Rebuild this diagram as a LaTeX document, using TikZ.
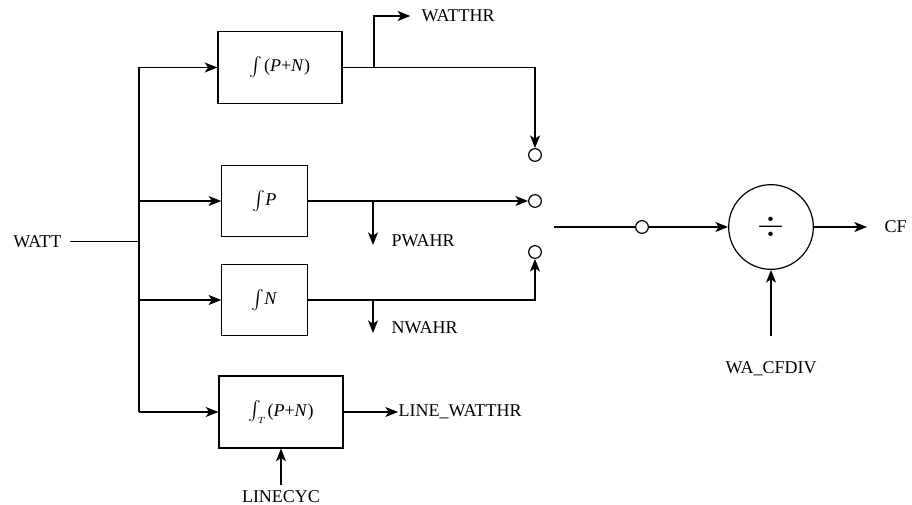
\documentclass[tikz,border=0pt]{standalone}
\usepackage{fix-cm}
\usepackage{exscale}
\usepackage{fontspec}
\setmainfont{Liberation Serif}
\usetikzlibrary{arrows.meta}
\begin{document}
\begin{tikzpicture}[x=0.75pt,y=-0.75pt,
  line width=0.9pt,
  every node/.style={font=\fontsize{13.5}{16}\selectfont},
  blk/.style={draw, line width=0.9pt, inner sep=0pt},
  contact/.style={draw, circle, line width=0.9pt, minimum size=9.5pt, inner sep=0pt},
  divc/.style={draw, circle, line width=0.9pt, minimum size=63.5pt, inner sep=0pt},
  lbl/.style={inner sep=0pt},
  arr/.style={-{Stealth[length=9.5pt,width=7.5pt,inset=2.5pt]}}]
\useasboundingbox (0,0) rectangle (912,505);

% blocks
\node[blk, minimum width=93pt, minimum height=54pt] (b1) at (280,67.5) {$\int$\kern1pt(\textit{P}+\textit{N})};
\node[blk, minimum width=64pt, minimum height=53pt] (b2) at (264.5,201) {$\int$\textit{P}};
\node[blk, minimum width=64pt, minimum height=53pt] (b3) at (264.5,300) {$\int$\textit{N}};
\node[blk, minimum width=93pt, minimum height=54pt] (b4) at (281,412) {$\int_{\scriptscriptstyle T}$\kern1pt(\textit{P}+\textit{N})};

% labels
\node[lbl, anchor=east] (watt) at (62,241.5) {WATT};
\node[lbl, anchor=west] (watthr) at (421,16) {WATTHR};
\node[lbl, anchor=west] (pwahr) at (391,241) {PWAHR};
\node[lbl, anchor=west] (nwahr) at (391,328) {NWAHR};
\node[lbl, anchor=west] (linew) at (398,412) {LINE\_WATTHR};
\node[lbl] (linecyc) at (281,497) {LINECYC};
\node[lbl] (wacf) at (771,369) {WA\_CFDIV};
\node[lbl, anchor=west] (cf) at (884,227) {CF};

% contacts
\node[contact] (c1) at (535,155) {};
\node[contact] (c2) at (535,201) {};
\node[contact] (c3) at (535,252) {};
\node[contact] (c4) at (642,227) {};
\node[divc] (div) at (771,227) {\fontsize{26}{28}\selectfont $\div$};

% coordinates
\coordinate (wst) at (70,241.5);
\coordinate (wbus) at (139,241.5);
\coordinate (bus1) at (139,67.5);
\coordinate (bus2) at (139,201);
\coordinate (bus3) at (139,300);
\coordinate (bus4) at (139,412);
\coordinate (j1) at (374,67.5);
\coordinate (j2) at (373,201);
\coordinate (j2e) at (373,245);
\coordinate (j3) at (373,300);
\coordinate (j3e) at (373,333);
\coordinate (sw) at (554,227);
\coordinate (cfe) at (867,227);
\coordinate (wacfs) at (771,336);
\coordinate (lcs) at (281,485);

% input bus
\draw (wst) -- (wbus);
\draw (bus1) -- (bus4);
\draw[arr] (bus1) -- (b1.west);
\draw[arr] (bus2) -- (b2.west);
\draw[arr] (bus3) -- (b3.west);
\draw[arr] (bus4) -- (b4.west);

% outputs
\draw[arr] (b1.east) -| (c1.north);
\draw[arr] (j1) |- ([xshift=-8pt]watthr.west);
\draw[arr] (b2.east) -- (c2.west);
\draw[arr] (j2) -- (j2e);
\draw[arr] (b3.east) -| (c3.south);
\draw[arr] (j3) -- (j3e);
\draw[arr] (b4.east) -- (linew.west);
\draw[arr] (lcs) -- (b4.south);

% divider
\draw (sw) -- (c4.west);
\draw[arr] (c4.east) -- (div.west);
\draw[arr] (div.east) -- (cfe);
\draw[arr] (wacfs) -- (div.south);
\end{tikzpicture}
\end{document}
